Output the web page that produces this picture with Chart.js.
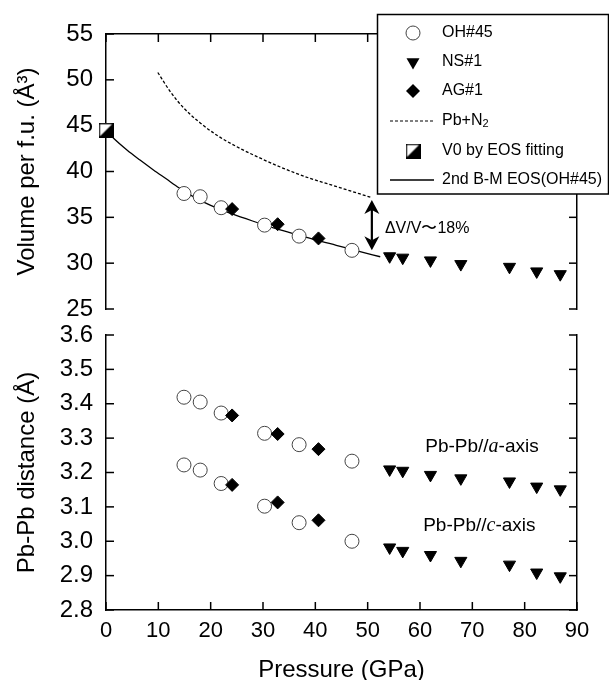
<!DOCTYPE html>
<html><head><meta charset="utf-8">
<script src="https://cdn.jsdelivr.net/npm/chart.js@4.4.0/dist/chart.umd.min.js"></script>
<style>
html,body{margin:0;padding:0;background:#fff;}
#wrap{position:relative;width:609px;height:680px;overflow:hidden;background:#fff;}
canvas{position:absolute;left:0;top:0;}
</style></head><body>
<div id="wrap"><canvas id="bot" width="609" height="680"></canvas><canvas id="top" width="609" height="680"></canvas></div>
<script>
// ---------- data ----------
const pressureTicks = [0,10,20,30,40,50,60,70,80,90];
const volumeTicks = [25,30,35,40,45,50,55];
const distanceTicks = [2.8,2.9,3.0,3.1,3.2,3.3,3.4,3.5,3.6];

const pressureOH = [14.9, 18.0, 22.0, 30.3, 36.9, 47.0];
const volumeOH   = [37.6, 37.25, 36.05, 34.15, 32.95, 31.4];
const pressureAG = [24.1, 32.8, 40.6];
const volumeAG   = [35.9, 34.25, 32.7];
const pressureNS = [54.2, 56.7, 62.0, 67.8, 77.1, 82.3, 86.8];
const volumeNS   = [30.75, 30.6, 30.3, 29.9, 29.6, 29.1, 28.8];
const pressureV0 = [0];
const volumeV0   = [44.5];
const pressurePbN2 = [9.9, 12.3, 14.9, 18.0, 21.2, 25.0, 29.5, 33.9, 39.0, 44.1, 50.5];
const volumePbN2   = [50.8, 48.7, 46.9, 45.3, 43.95, 42.7, 41.45, 40.35, 39.25, 38.35, 37.2];
const pressureEOS = [0, 1.5, 4, 6.5, 9, 11.5, 14, 17, 20, 24, 28, 32, 36, 40, 44, 48, 52.4];
const volumeEOS   = [44.5, 43.6, 42.35, 41.25, 40.2, 39.2, 38.2, 37.15, 36.3, 35.4, 34.6, 33.85, 33.2, 32.55, 31.95, 31.35, 30.7];

const distOH_a = [3.419, 3.405, 3.373, 3.314, 3.281, 3.233];
const distOH_c = [3.222, 3.207, 3.168, 3.102, 3.054, 3.000];
const distAG_a = [3.366, 3.312, 3.268];
const distAG_c = [3.164, 3.113, 3.061];
const distNS_a = [3.209, 3.205, 3.193, 3.183, 3.174, 3.159, 3.151];
const distNS_c = [2.982, 2.972, 2.960, 2.943, 2.932, 2.909, 2.898];

const arrowPressure = [50.8];
const arrowVolume = [36.9, 31.4];
const deltaLabel = {text: 'ΔV/V〜18%', p: 53.3, v: 33.8};
const axisLabels = [
  {pre: 'Pb-Pb//', it: 'a', post: '-axis', p: 61.0, d: 3.275},
  {pre: 'Pb-Pb//', it: 'c', post: '-axis', p: 60.6, d: 3.044}
];
const legendLabels = ['OH#45', 'NS#1', 'AG#1', 'Pb+N', 'V0 by EOS fitting', '2nd B-M EOS(OH#45)'];

// ---------- helpers ----------
const FONT = "'Liberation Sans', Arial, Helvetica, sans-serif";
Chart.defaults.font.family = FONT;
Chart.defaults.color = '#000';
const pts = (xs, ys) => xs.map((x, i) => ({x, y: ys[i]}));

const halfSquare = (() => {
  const c = document.createElement('canvas'); c.width = 15; c.height = 15;
  const g = c.getContext('2d');
  g.fillStyle = '#fff'; g.fillRect(0, 0, 15, 15);
  g.fillStyle = '#000'; g.beginPath(); g.moveTo(15, 0); g.lineTo(15, 15); g.lineTo(0, 15); g.closePath(); g.fill();
  g.strokeStyle = '#000'; g.lineWidth = 1.5; g.strokeRect(0.75, 0.75, 13.5, 13.5);
  return c;
})();

const gridOff = {drawOnChartArea: false, drawTicks: false};
const borderOn = {display: true, color: '#000', width: 1.5};
const setTicks = arr => s => { s.ticks = arr.map(v => ({value: v})); };

function leftAxis(min, max, arr, title, fmt) {
  return {
    type: 'linear', position: 'left', min, max,
    afterBuildTicks: setTicks(arr),
    ticks: {padding: 13, font: {size: 24}, color: '#000', callback: fmt},
    grid: gridOff, border: borderOn,
    title: {display: true, text: title, font: {size: 24, lineHeight: 1.2}, color: '#000', padding: {top: 12.6, bottom: 0}},
    afterFit: s => { s.width = 106; }
  };
}
function rightAxis(min, max, arr) {
  return {
    type: 'linear', position: 'right', min, max,
    afterBuildTicks: setTicks(arr),
    ticks: {display: false},
    grid: gridOff, border: borderOn,
    afterFit: s => { s.width = 0; }
  };
}

// inward tick marks drawn at each scale's own tick positions
const innerTicks = {
  id: 'innerTicks',
  beforeDatasetsDraw(chart) {
    const ctx = chart.ctx, ca = chart.chartArea, L = 8;
    ctx.save(); ctx.strokeStyle = '#000'; ctx.lineWidth = 1.5;
    Object.values(chart.scales).forEach(s => {
      const pos = s.options.position;
      s.ticks.forEach(t => {
        const p = s.getPixelForValue(t.value);
        ctx.beginPath();
        if (pos === 'left') { ctx.moveTo(ca.left, p); ctx.lineTo(ca.left + L, p); }
        else if (pos === 'right') { ctx.moveTo(ca.right, p); ctx.lineTo(ca.right - L, p); }
        else if (pos === 'top') { ctx.moveTo(p, ca.top); ctx.lineTo(p, ca.top + L); }
        else { ctx.moveTo(p, ca.bottom); ctx.lineTo(p, ca.bottom - L); }
        ctx.stroke();
      });
    });
    ctx.restore();
  }
};

const circleDs = (label, data) => ({label, data, pointStyle: 'circle', pointRadius: 7, pointBackgroundColor: '#fff', pointBorderColor: '#444', pointBorderWidth: 1, order: 1});
const triDs = (label, data) => ({label, data, pointStyle: 'triangle', rotation: 180, pointRotation: 180, pointRadius: 7, pointBackgroundColor: '#000', pointBorderColor: '#000', pointBorderWidth: 1, order: 1});
const diaDs = (label, data) => ({label, data, pointStyle: 'rectRot', pointRadius: 6.5, pointBackgroundColor: '#000', pointBorderColor: '#000', pointBorderWidth: 1, order: 0});

const common = {
  responsive: false, animation: false, events: [],
  plugins: {legend: {display: false}, tooltip: {enabled: false}}
};

// ---------- top chart ----------
const topPlugin = {
  id: 'topExtras',
  afterDatasetsDraw(chart) {
    const ctx = chart.ctx, xs = chart.scales.x, ys = chart.scales.y;
    const ax = xs.getPixelForValue(arrowPressure[0]);
    const y1 = ys.getPixelForValue(arrowVolume[0]);
    const y2 = ys.getPixelForValue(arrowVolume[1]);
    const hw = 7.5, hh = 14, nk = 10;
    ctx.save();
    ctx.strokeStyle = '#000'; ctx.fillStyle = '#000'; ctx.lineWidth = 2.2;
    ctx.beginPath(); ctx.moveTo(ax, y1 + nk); ctx.lineTo(ax, y2 - nk); ctx.stroke();
    ctx.beginPath(); ctx.moveTo(ax, y1); ctx.lineTo(ax - hw, y1 + hh); ctx.lineTo(ax, y1 + nk); ctx.lineTo(ax + hw, y1 + hh); ctx.closePath(); ctx.fill();
    ctx.beginPath(); ctx.moveTo(ax, y2); ctx.lineTo(ax - hw, y2 - hh); ctx.lineTo(ax, y2 - nk); ctx.lineTo(ax + hw, y2 - hh); ctx.closePath(); ctx.fill();
    ctx.font = '16px ' + FONT; ctx.textBaseline = 'middle'; ctx.textAlign = 'left';
    ctx.fillText(deltaLabel.text, xs.getPixelForValue(deltaLabel.p), ys.getPixelForValue(deltaLabel.v));
    ctx.restore();
  },
  afterDraw(chart) {
    const ctx = chart.ctx;
    ctx.save();
    ctx.fillStyle = '#fff'; ctx.fillRect(377, 14, 232, 180);
    ctx.strokeStyle = '#000'; ctx.lineWidth = 1.5; ctx.strokeRect(377.5, 14.5, 231, 179.5);
    const rows = [33, 62, 91, 121, 151, 180];
    const mx = 413, tx = 442;
    ctx.font = '16px ' + FONT; ctx.textBaseline = 'middle'; ctx.textAlign = 'left';
    ctx.beginPath(); ctx.arc(mx, rows[0], 7, 0, Math.PI * 2); ctx.fillStyle = '#fff'; ctx.fill(); ctx.strokeStyle = '#444'; ctx.lineWidth = 1; ctx.stroke();
    ctx.fillStyle = '#000';
    ctx.beginPath(); ctx.moveTo(mx, rows[1] + 7.5); ctx.lineTo(mx - 6.5, rows[1] - 3.8); ctx.lineTo(mx + 6.5, rows[1] - 3.8); ctx.closePath(); ctx.fill();
    ctx.beginPath(); ctx.moveTo(mx, rows[2] - 7); ctx.lineTo(mx + 7, rows[2]); ctx.lineTo(mx, rows[2] + 7); ctx.lineTo(mx - 7, rows[2]); ctx.closePath(); ctx.fill();
    ctx.strokeStyle = '#000'; ctx.lineWidth = 1.2; ctx.setLineDash([3, 2]);
    ctx.beginPath(); ctx.moveTo(390, rows[3]); ctx.lineTo(434, rows[3]); ctx.stroke();
    ctx.setLineDash([]);
    ctx.drawImage(halfSquare, mx - 7.5, rows[4] - 7.5);
    ctx.lineWidth = 1.3;
    ctx.beginPath(); ctx.moveTo(390, rows[5]); ctx.lineTo(434, rows[5]); ctx.stroke();
    ctx.fillStyle = '#000';
    legendLabels.forEach((t, i) => {
      ctx.font = '16px ' + FONT;
      ctx.fillText(t, tx, rows[i]);
      if (i === 3) {
        const w = ctx.measureText(t).width;
        ctx.font = '11px ' + FONT;
        ctx.fillText('2', tx + w, rows[i] + 3);
      }
    });
    ctx.restore();
  }
};

new Chart(document.getElementById('top'), {
  type: 'scatter',
  data: {datasets: [
    circleDs('OH#45', pts(pressureOH, volumeOH)),
    triDs('NS#1', pts(pressureNS, volumeNS)),
    diaDs('AG#1', pts(pressureAG, volumeAG)),
    {label: 'Pb+N2', data: pts(pressurePbN2, volumePbN2), showLine: true, pointRadius: 0, borderColor: '#000', borderWidth: 1.3, borderDash: [3, 2], cubicInterpolationMode: 'monotone', order: 5},
    {label: 'V0 by EOS fitting', data: pts(pressureV0, volumeV0), pointStyle: halfSquare, pointRadius: 7, clip: false, order: 0},
    {label: '2nd B-M EOS(OH#45)', data: pts(pressureEOS, volumeEOS), showLine: true, pointRadius: 0, borderColor: '#000', borderWidth: 1.3, cubicInterpolationMode: 'monotone', order: 5}
  ]},
  options: Object.assign({}, common, {
    layout: {padding: {left: 0, right: 32, top: 0, bottom: 371}},
    scales: {
      x: {type: 'linear', position: 'top', min: 0, max: 90,
          afterBuildTicks: setTicks(pressureTicks),
          ticks: {display: false}, grid: gridOff, border: borderOn,
          afterFit: s => { s.height = 34; }},
      y: leftAxis(25, 55, volumeTicks, 'Volume per f.u. (Å³)', v => String(v)),
      y2: rightAxis(25, 55, volumeTicks)
    }
  }),
  plugins: [innerTicks, topPlugin]
});

// ---------- bottom chart ----------
const botPlugin = {
  id: 'botExtras',
  afterDatasetsDraw(chart) {
    const ctx = chart.ctx, xs = chart.scales.x, ys = chart.scales.y;
    ctx.save();
    ctx.fillStyle = '#000'; ctx.textBaseline = 'middle'; ctx.textAlign = 'left';
    axisLabels.forEach(l => {
      let x = xs.getPixelForValue(l.p);
      const y = ys.getPixelForValue(l.d);
      ctx.font = '19px ' + FONT; ctx.fillText(l.pre, x, y); x += ctx.measureText(l.pre).width;
      ctx.font = "italic 20px 'Liberation Serif', 'Times New Roman', serif"; ctx.fillText(l.it, x, y); x += ctx.measureText(l.it).width;
      ctx.font = '19px ' + FONT; ctx.fillText(l.post, x, y);
    });
    ctx.restore();
  }
};

new Chart(document.getElementById('bot'), {
  type: 'scatter',
  data: {datasets: [
    circleDs('OH#45 a', pts(pressureOH, distOH_a)),
    circleDs('OH#45 c', pts(pressureOH, distOH_c)),
    triDs('NS#1 a', pts(pressureNS, distNS_a)),
    triDs('NS#1 c', pts(pressureNS, distNS_c)),
    diaDs('AG#1 a', pts(pressureAG, distAG_a)),
    diaDs('AG#1 c', pts(pressureAG, distAG_c))
  ]},
  options: Object.assign({}, common, {
    layout: {padding: {left: 0, right: 32, top: 335, bottom: 0}},
    scales: {
      x: {type: 'linear', position: 'bottom', min: 0, max: 90,
          afterBuildTicks: setTicks(pressureTicks),
          ticks: {padding: 7.5, font: {size: 22}, color: '#000', maxRotation: 0, autoSkip: false},
          grid: gridOff, border: borderOn,
          title: {display: true, text: 'Pressure (GPa)', font: {size: 24, lineHeight: 1}, color: '#000', padding: {top: 0, bottom: -2}},
          afterFit: s => { s.height = 70; }},
      y: leftAxis(2.8, 3.6, distanceTicks, 'Pb-Pb distance (Å)', v => Number(v).toFixed(1)),
      y2: rightAxis(2.8, 3.6, distanceTicks)
    }
  }),
  plugins: [innerTicks, botPlugin]
});
</script>
</body></html>
